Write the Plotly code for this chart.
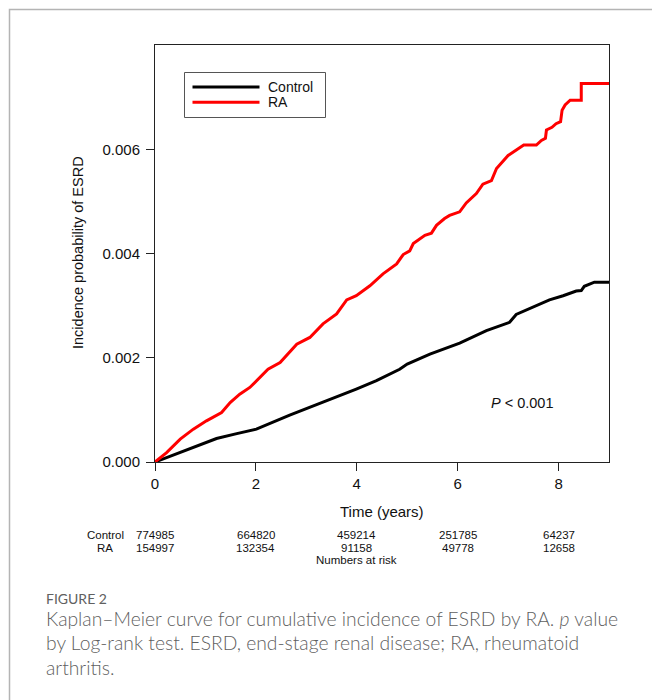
import plotly.graph_objects as go

# ---------------- data ----------------
control_t = [0, 0.56, 1.0, 1.22, 1.6, 2.01, 2.67, 3.0, 3.33, 3.99, 4.39, 4.85, 5.0, 5.45,
             6.04, 6.57, 7.03, 7.16, 7.49, 7.82, 8.09, 8.35, 8.45, 8.51, 8.71, 9.0]
control_v = [0, 0.00021, 0.00037, 0.00045, 0.00054, 0.00063, 0.00090, 0.00102, 0.00115,
             0.00140, 0.00156, 0.00178, 0.00188, 0.00207, 0.00228, 0.00252, 0.00268,
             0.00283, 0.00297, 0.00311, 0.00319, 0.00328, 0.00329, 0.00337, 0.00345, 0.00345]

ra_t = [0, 0.23, 0.5, 0.76, 1.02, 1.32, 1.49, 1.68, 1.88, 2.01, 2.24, 2.48, 2.67, 2.81,
        3.07, 3.33, 3.6, 3.8, 3.99, 4.26, 4.52, 4.79, 4.92, 5.05, 5.12, 5.25, 5.35, 5.48,
        5.58, 5.74, 5.84, 6.04, 6.17, 6.37, 6.5, 6.67, 6.77, 7.0, 7.19, 7.31, 7.56, 7.66,
        7.74, 7.76, 7.87, 7.95, 8.04, 8.07, 8.13, 8.23, 8.45, 8.45, 9.0]
ra_v = [0, 0.00018, 0.00044, 0.00063, 0.00079, 0.00095, 0.00114, 0.00130, 0.00143, 0.00156,
        0.00178, 0.00191, 0.00210, 0.00226, 0.00239, 0.00265, 0.00284, 0.00311, 0.00319,
        0.00338, 0.00361, 0.00380, 0.00398, 0.00405, 0.00419, 0.00428, 0.00435, 0.00439,
        0.00454, 0.00467, 0.00473, 0.00480, 0.00497, 0.00515, 0.00533, 0.00540, 0.00563,
        0.00588, 0.00601, 0.00608, 0.00608, 0.00617, 0.00621, 0.00637, 0.00642, 0.00649,
        0.00653, 0.00675, 0.00685, 0.00694, 0.00694, 0.00726, 0.00726]

x_ticks = [0, 2, 4, 6, 8]
y_ticks = [0, 0.002, 0.004, 0.006]
risk_times = [0, 2, 4, 6, 8]
risk_control = ["774985", "664820", "459214", "251785", "64237"]
risk_ra = ["154997", "132354", "91158", "49778", "12658"]
series_names = ["Control", "RA"]
series_colors = ["#000000", "#ff0000"]

caption_title = "FIGURE 2"
caption_lines = [
    "Kaplan\u2013Meier curve for cumulative incidence of ESRD by RA. <i>p</i> value",
    "by Log-rank test. ESRD, end-stage renal disease; RA, rheumatoid",
    "arthritis.",
]

# ---------------- layout helpers (screen pixel -> paper) ----------------
OFF = 8                     # page body margin
W, H = 652, 692
L, T = 155 - OFF, 45 - OFF  # plot box in figure coordinates
PW, PH = 454, 417
R = W - L - PW
B = H - T - PH


def px(x):
    return (x - OFF - L) / PW


def py(y):
    return (H - B - (y - OFF)) / PH


FONT = "Liberation Sans, Arial, sans-serif"
TXT = "#111111"

fig = go.Figure()
fig.add_trace(go.Scatter(x=control_t, y=control_v, mode="lines", name=series_names[0],
                         line=dict(color=series_colors[0], width=3), showlegend=False))
fig.add_trace(go.Scatter(x=ra_t, y=ra_v, mode="lines", name=series_names[1],
                         line=dict(color=series_colors[1], width=3), showlegend=False))

shapes = []
# outer gray frame
shapes.append(dict(type="rect", xref="paper", yref="paper", x0=px(9.5), x1=px(720),
                   y0=py(760), y1=py(9.5), line=dict(color="#b4b4b4", width=1.5), layer="below"))
# legend box
shapes.append(dict(type="rect", xref="paper", yref="paper", x0=px(184.5), x1=px(325.5),
                   y0=py(117.5), y1=py(72.5), line=dict(color="#555555", width=1),
                   fillcolor="white"))
ann = []
for i, (nm, col) in enumerate(zip(series_names, series_colors)):
    yy = 87 + i * 15.3
    shapes.append(dict(type="line", xref="paper", yref="paper", x0=px(192.5), x1=px(259.5),
                       y0=py(yy), y1=py(yy), line=dict(color=col, width=3)))
    ann.append(dict(text=nm, xref="paper", yref="paper", x=px(265.5), y=py(yy),
                    xanchor="left", yanchor="middle", showarrow=False,
                    font=dict(family=FONT, size=14, color=TXT)))

# P value
ann.append(dict(text="<i>P</i> < 0.001", xref="paper", yref="paper", x=px(489), y=py(403),
                xanchor="left", yanchor="middle", showarrow=False,
                font=dict(family=FONT, size=14.5, color=TXT)))
# axis titles
ann.append(dict(text="Time (years)", xref="paper", yref="paper", x=px(382), y=py(511),
                xanchor="center", yanchor="middle", showarrow=False,
                font=dict(family=FONT, size=15, color=TXT)))
ann.append(dict(text="Incidence probability of ESRD", xref="paper", yref="paper", x=px(78),
                y=py(253), xanchor="center", yanchor="middle", textangle=-90,
                showarrow=False, font=dict(family=FONT, size=14.5, color=TXT)))
# numbers at risk
RS = 11.5
ROW1, ROW2, ROW3 = 535, 547.5, 560
ann.append(dict(text="Control", xref="paper", yref="paper", x=px(105), y=py(ROW1),
                xanchor="center", yanchor="middle", showarrow=False,
                font=dict(family=FONT, size=RS, color=TXT)))
ann.append(dict(text="RA", xref="paper", yref="paper", x=px(105), y=py(ROW2),
                xanchor="center", yanchor="middle", showarrow=False,
                font=dict(family=FONT, size=RS, color=TXT)))
for t, c, r in zip(risk_times, risk_control, risk_ra):
    ann.append(dict(text=c, xref="x", yref="paper", x=t, y=py(ROW1), xanchor="center",
                    yanchor="middle", showarrow=False, font=dict(family=FONT, size=RS, color=TXT)))
    ann.append(dict(text=r, xref="x", yref="paper", x=t, y=py(ROW2), xanchor="center",
                    yanchor="middle", showarrow=False, font=dict(family=FONT, size=RS, color=TXT)))
ann.append(dict(text="Numbers at risk", xref="x", yref="paper", x=4, y=py(ROW3),
                xanchor="center", yanchor="middle", showarrow=False,
                font=dict(family=FONT, size=RS, color=TXT)))
# caption
CAP_FONT = "Lato, Open Sans, sans-serif"
ann.append(dict(text=caption_title, xref="paper", yref="paper", x=px(44), y=py(598),
                xanchor="left", yanchor="middle", showarrow=False,
                font=dict(family=CAP_FONT, size=14, color="#606060")))
for i, line in enumerate(caption_lines):
    ann.append(dict(text=line, xref="paper", yref="paper", x=px(44), y=py(618 + i * 24.5),
                    xanchor="left", yanchor="middle", showarrow=False,
                    font=dict(family=CAP_FONT, size=19.3, color="#5f5f5f", weight=300)))

fig.update_layout(
    width=W, height=H,
    margin=dict(l=L, r=R, t=T, b=B, autoexpand=False),
    paper_bgcolor="white", plot_bgcolor="white",
    shapes=shapes, annotations=ann,
    showlegend=False,
    font=dict(family=FONT, size=15, color=TXT),
)
fig.update_xaxes(range=[0, 9], tickvals=x_ticks, ticktext=[str(v) for v in x_ticks],
                 showgrid=False, zeroline=False, showline=True, mirror=True,
                 linecolor="#222", linewidth=1, ticks="outside", ticklen=8,
                 tickcolor="#222", tickfont=dict(family=FONT, size=15, color=TXT))
fig.update_yaxes(range=[0, 0.008], tickvals=y_ticks, ticktext=[f"{v:.3f}" for v in y_ticks],
                 showgrid=False, zeroline=False, showline=True, mirror=True,
                 linecolor="#222", linewidth=1, ticks="outside", ticklen=8,
                 ticklabelstandoff=3,
                 tickcolor="#222", tickfont=dict(family=FONT, size=15, color=TXT))

fig.write_html("out.html")
